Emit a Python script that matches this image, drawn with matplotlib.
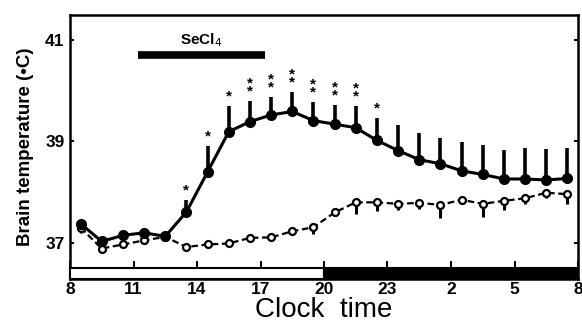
import matplotlib
matplotlib.use("Agg")
import matplotlib.pyplot as plt
from matplotlib.patches import Rectangle

plt.rcParams['font.family'] = ['Liberation Sans', 'DejaVu Sans']

# Data (clock time in hours; times after midnight are continued past 24)
hours = [8.5, 9.5, 10.5, 11.5, 12.5, 13.5, 14.5, 15.5, 16.5, 17.5, 18.5, 19.5,
         20.5, 21.5, 22.5, 23.5, 24.5, 25.5, 26.5, 27.5, 28.5, 29.5, 30.5, 31.5]
secl4_temp = [37.38, 37.03, 37.15, 37.20, 37.13, 37.61, 38.40, 39.19, 39.39, 39.52,
              39.59, 39.41, 39.34, 39.27, 39.02, 38.82, 38.64, 38.56, 38.42, 38.35,
              38.26, 38.26, 38.24, 38.27]
secl4_err = [0.0, 0.0, 0.0, 0.0, 0.0, 0.24, 0.50, 0.50, 0.41, 0.35,
             0.38, 0.37, 0.38, 0.42, 0.44, 0.51, 0.52, 0.51, 0.57, 0.58,
             0.57, 0.62, 0.61, 0.61]
control_temp = [37.30, 36.89, 36.97, 37.05, 37.12, 36.92, 36.97, 36.99, 37.10, 37.11,
                37.23, 37.31, 37.60, 37.80, 37.80, 37.77, 37.79, 37.75, 37.85, 37.77,
                37.83, 37.88, 37.99, 37.96]
control_err = [0.10, 0.0, 0.0, 0.0, 0.0, 0.0, 0.0, 0.0, 0.0, 0.0,
               0.06, 0.14, 0.05, 0.22, 0.18, 0.13, 0.13, 0.26, 0.08, 0.25,
               0.19, 0.11, 0.11, 0.19]
signif = ["", "", "", "", "", "*", "*", "*", "**", "**", "**", "**",
          "**", "**", "*", "", "", "", "", "", "", "", "", ""]
xticks = [8, 11, 14, 17, 20, 23, 26, 29, 32]
xticklabels = ["8", "11", "14", "17", "20", "23", "2", "5", "8"]
yticks = [37, 39, 41]
treatment_span = (11.2, 17.2)
light_span = (8, 20)
dark_span = (20, 32)

fig = plt.figure(figsize=(5.82, 3.22), dpi=100)
ax = fig.add_axes([70/582, 43/322, 508/582, 264/322])
ax.set_xlim(8, 32)
ax.set_ylim(36.29, 41.49)

# control series (dashed, open circles, downward error bars)
ax.errorbar(hours, control_temp, yerr=[control_err, [0]*len(control_err)],
            fmt='none', ecolor='black', elinewidth=2.2, capsize=0, zorder=2)
ax.plot(hours, control_temp, linestyle=(0, (3, 1.6)), color='black', linewidth=1.6,
        marker='o', markersize=5, markerfacecolor='white', markeredgewidth=1.6,
        markeredgecolor='black', zorder=3)

# SeCl4 series (solid, filled circles, upward error bars)
ax.errorbar(hours, secl4_temp, yerr=[[0]*len(secl4_err), secl4_err],
            fmt='none', ecolor='black', elinewidth=2.6, capsize=0, zorder=4)
ax.plot(hours, secl4_temp, '-', color='black', linewidth=2.2, marker='o',
        markersize=7, zorder=5)

# significance asterisks
for h, t, e, s in zip(hours, secl4_temp, secl4_err, signif):
    if s:
        ax.annotate("\n".join(s), (h, t + e), xytext=(0, 2), textcoords='offset points',
                    ha='center', va='bottom', fontsize=11, fontweight='bold',
                    linespacing=0.45, annotation_clip=False)

# treatment bar
ax.plot(treatment_span, [40.70, 40.70], color='black', linewidth=5.5,
        solid_capstyle='butt')
ax.text(sum(treatment_span)/2, 40.82, "SeCl$_4$", ha='center', va='bottom',
        fontsize=11, fontweight='bold')

# light/dark bar
bar_bottom, bar_top = 36.29, 36.51
ax.add_patch(Rectangle((light_span[0], bar_bottom), light_span[1]-light_span[0],
                       bar_top-bar_bottom, facecolor='white', edgecolor='black',
                       linewidth=1.5, zorder=6, clip_on=False))
ax.add_patch(Rectangle((dark_span[0], bar_bottom), dark_span[1]-dark_span[0],
                       bar_top-bar_bottom, facecolor='black', edgecolor='black',
                       linewidth=1.5, zorder=6, clip_on=False))

ax.set_xticks(xticks)
ax.set_xticklabels(xticklabels, fontsize=12.5, fontweight='bold')
ax.set_yticks(yticks)
ax.set_yticklabels([str(v) for v in yticks], fontsize=12.5, fontweight='bold')
ax.tick_params(axis='x', direction='in', length=13, width=1.5, pad=2)
ax.tick_params(axis='y', direction='in', length=3, width=1.5, right=True, pad=4)
for sp in ax.spines.values():
    sp.set_linewidth(1.8)

ax.set_ylabel("Brain temperature (•C)", fontsize=13.5, fontweight='bold', labelpad=8)
ax.set_xlabel("Clock  time", fontsize=20, labelpad=0)

fig.savefig("out.png", dpi=100)
